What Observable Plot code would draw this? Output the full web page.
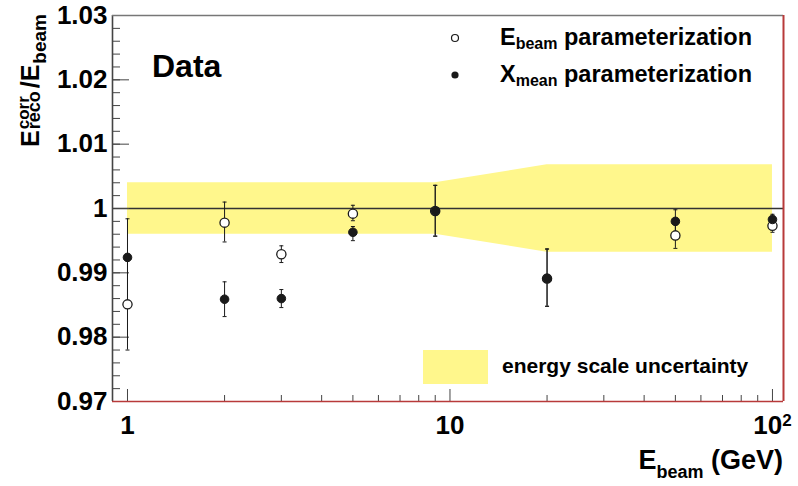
<!DOCTYPE html>
<html><head><meta charset="utf-8">
<script src="https://cdn.jsdelivr.net/npm/d3@7"></script>
<script src="https://cdn.jsdelivr.net/npm/@observablehq/plot@0.6"></script>
<style>
body{margin:0;background:#fff;}
#chart svg{display:block;}
</style></head><body><div id="chart"></div>
<script>
// ---- data ----
const energies = [1, 2, 3, 5, 9, 20, 50, 100];
const ebeamVal = [0.9851, 0.9978, 0.9929, 0.9992, 0.9996, 0.9891, 0.9958, 0.9973];
const ebeamLo  = [0.9780, 0.9948, 0.9916, 0.9981, 0.9957, 0.9848, 0.9938, 0.9963];
const ebeamHi  = [0.9922, 1.0010, 0.9942, 1.0005, 1.0036, 0.9937, 0.9978, 0.9983];
const xmeanVal = [0.9924, 0.9859, 0.9860, 0.9963, 0.9996, 0.9891, 0.9980, 0.9983];
const xmeanLo  = [0.9851, 0.9832, 0.9846, 0.9950, 0.9957, 0.9848, 0.9965, 0.9976];
const xmeanHi  = [0.9984, 0.9886, 0.9874, 0.9972, 1.0036, 0.9937, 0.9998, 0.9991];
const bandE  = [1, 9, 20, 100];
const bandLo = [0.9960, 0.9960, 0.9932, 0.9932];
const bandHi = [1.0040, 1.0040, 1.0068, 1.0068];
const xDomain = [0.8985, 108.2];
const yDomain = [0.97, 1.03];
const yMajor = [0.97, 0.98, 0.99, 1.00, 1.01, 1.02, 1.03];
const yMinor = d3.ticks(0.97, 1.03, 30);
const xMajor = [1, 10, 100];
const xMinor = [2, 3, 4, 5, 6, 7, 8, 9, 20, 30, 40, 50, 60, 70, 80, 90];
const xTickLabels = ["1", "10", "10"];
const yTickLabels = ["0.97", "0.98", "0.99", "1", "1.01", "1.02", "1.03"];

const ebeam = energies.map((e, i) => ({e, v: ebeamVal[i], lo: ebeamLo[i], hi: ebeamHi[i]}));
const xmean = energies.map((e, i) => ({e, v: xmeanVal[i], lo: xmeanLo[i], hi: xmeanHi[i]}));
const band = bandE.map((e, i) => ({e, lo: bandLo[i], hi: bandHi[i]}));

const W = 798, H = 486, mL = 112, mR = 15, mT = 15, mB = 85;
const plotW = W - mL - mR, plotH = H - mT - mB;
const FONT = "'Liberation Sans', Arial, Helvetica, sans-serif";
const capSym = {draw(ctx, size) { const r = Math.sqrt(size / Math.PI); ctx.moveTo(-r, 0); ctx.lineTo(r, 0); }};
const ink = "#1a1a1a";

const chart = Plot.plot({
  width: W, height: H,
  marginLeft: mL, marginRight: mR, marginTop: mT, marginBottom: mB,
  style: {fontFamily: FONT, background: "white", color: "#000"},
  x: {type: "log", domain: xDomain},
  y: {domain: yDomain},
  marks: [
    Plot.areaY(band, {x: "e", y1: "lo", y2: "hi", fill: "#fff78c"}),
    Plot.ruleY([1], {stroke: "#333", strokeWidth: 1.4}),
    // minor / major ticks (inside)
    Plot.tickY(yMinor, {y: d => d, stroke: "#444", insetRight: plotW - 8}),
    Plot.tickY(yMajor, {y: d => d, stroke: "#444", insetRight: plotW - 17}),
    Plot.tickX(xMinor, {x: d => d, stroke: "#444", insetTop: plotH - 6}),
    Plot.tickX(xMajor, {x: d => d, stroke: "#444", insetTop: plotH - 12}),
    // error bars
    Plot.ruleX(ebeam, {x: "e", y1: "lo", y2: "hi", stroke: ink, strokeWidth: 1}),
    Plot.ruleX(xmean, {x: "e", y1: "lo", y2: "hi", stroke: ink, strokeWidth: 1}),
    Plot.dot(ebeam, {x: "e", y: "lo", symbol: capSym, r: 2, stroke: ink, strokeWidth: 1}),
    Plot.dot(ebeam, {x: "e", y: "hi", symbol: capSym, r: 2, stroke: ink, strokeWidth: 1}),
    Plot.dot(xmean, {x: "e", y: "lo", symbol: capSym, r: 2, stroke: ink, strokeWidth: 1}),
    Plot.dot(xmean, {x: "e", y: "hi", symbol: capSym, r: 2, stroke: ink, strokeWidth: 1}),
    // markers
    Plot.dot(ebeam, {x: "e", y: "v", r: 4.6, fill: "white", stroke: ink, strokeWidth: 1.3}),
    Plot.dot(xmean, {x: "e", y: "v", r: 4.3, fill: ink, stroke: ink, strokeWidth: 1}),
    // frame
    Plot.ruleX([xDomain[0]], {stroke: "#444", strokeWidth: 1.6}),
    Plot.ruleY([yDomain[1]], {stroke: "#777", strokeWidth: 1.4}),
    Plot.ruleX([xDomain[1]], {stroke: "#b83a3a", strokeWidth: 2}),
    Plot.ruleY([yDomain[0]], {stroke: "#b83a3a", strokeWidth: 1.6}),
    // axes labels
    Plot.axisY({ticks: yMajor, tickSize: 0, tickPadding: 5, label: null,
      tickFormat: d => yTickLabels[yMajor.indexOf(d)], fontSize: 26, fontWeight: "bold"}),
    Plot.axisX({ticks: xMajor, tickSize: 0, tickPadding: 14, label: null,
      tickFormat: d => xTickLabels[xMajor.indexOf(d)], fontSize: 26, fontWeight: "bold"})
  ]
});
document.getElementById("chart").appendChild(chart);

const svg = d3.select(chart);
// superscript on 10^2 label
svg.selectAll("text").filter(function() { return this.textContent === "10" && +d3.select(this).attr("transform")?.match(/translate\(([\d.]+)/)?.[1] > 700; })
  .each(function() {
    const t = d3.select(this);
    t.append("tspan").attr("dy", "-0.45em").attr("font-size", 17).text("2");
  });

const g = svg.append("g").attr("font-family", FONT).attr("font-weight", "bold")
  .attr("fill", "#000").attr("text-anchor", "start");

// Y axis title (rotated)
const yt = g.append("g").attr("transform", "translate(39,147) rotate(-90)");
function piece(parent, txt, x, y, fs) {
  const t = parent.append("text").attr("x", x).attr("y", y).attr("font-size", fs).attr("text-anchor", "start").text(txt);
  return t.node().getComputedTextLength();
}
let px = 0;
px += piece(yt, "E", px, 0, 25) + 1;
const w1 = piece(yt, "corr", px, -10, 17);
const w2 = piece(yt, "reco", px, 1, 18);
px += Math.max(w1, w2) + 3;
px += piece(yt, "/E", px, 0, 25) + 1;
piece(yt, "beam", px, 7, 19);

// X axis title
const xt = g.append("text").attr("x", 783).attr("y", 469).attr("text-anchor", "end").attr("font-size", 27);
xt.append("tspan").text("E");
xt.append("tspan").attr("font-size", 18).attr("dy", 9).text("beam");
xt.append("tspan").attr("dy", -9).text(" (GeV)");

// "Data"
g.append("text").attr("x", 152).attr("y", 77).attr("font-size", 32).text("Data");

// legend
g.append("circle").attr("cx", 455).attr("cy", 38).attr("r", 3.5).attr("fill", "white").attr("stroke", ink).attr("stroke-width", 1.2);
g.append("circle").attr("cx", 455).attr("cy", 75).attr("r", 3.6).attr("fill", ink);
const l1 = g.append("text").attr("x", 500).attr("y", 45).attr("font-size", 23.5);
l1.append("tspan").text("E");
l1.append("tspan").attr("font-size", 16).attr("dy", 4).text("beam");
l1.append("tspan").attr("dy", -4).text(" parameterization");
const l2 = g.append("text").attr("x", 500).attr("y", 82).attr("font-size", 23.5);
l2.append("tspan").text("X");
l2.append("tspan").attr("font-size", 16).attr("dy", 4).text("mean");
l2.append("tspan").attr("dy", -4).text(" parameterization");

g.append("rect").attr("x", 423).attr("y", 350).attr("width", 65).attr("height", 34).attr("fill", "#fff78c");
g.append("text").attr("x", 502).attr("y", 373).attr("font-size", 21).text("energy scale uncertainty");
</script>
</body></html>
